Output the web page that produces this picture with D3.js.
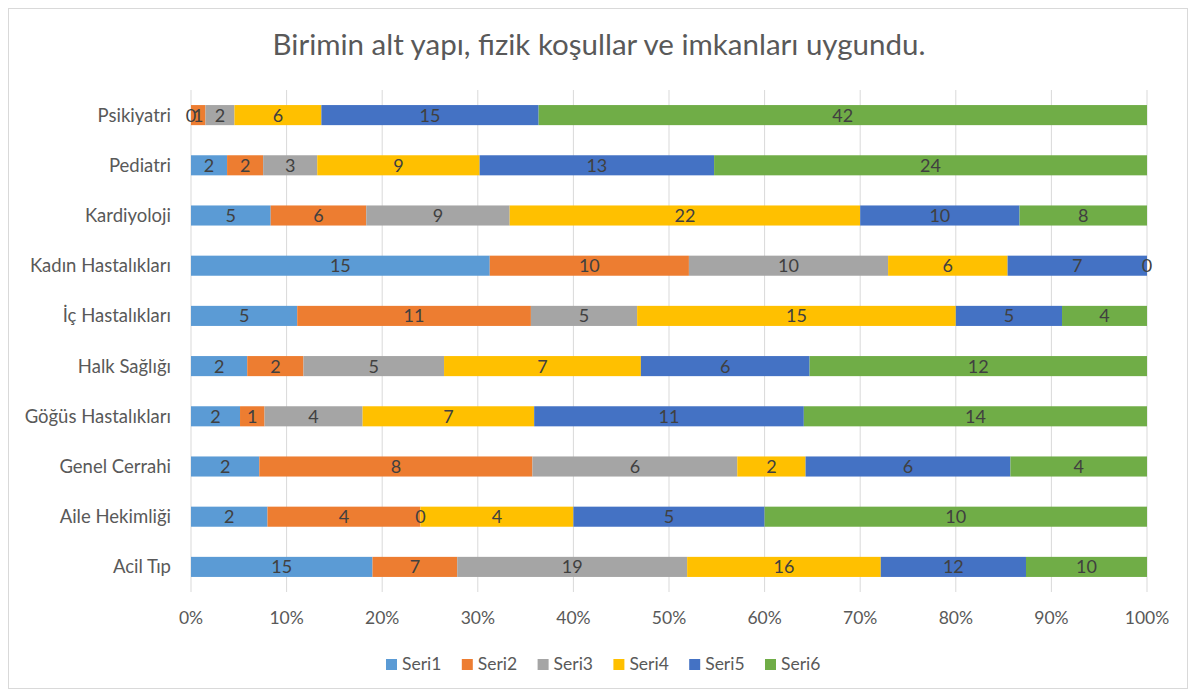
<!DOCTYPE html>
<html><head><meta charset="utf-8">
<script src="https://cdn.jsdelivr.net/npm/d3@7"></script>
<style>body{margin:0;background:#fff;}svg{display:block;font-family:Lato,"Open Sans",sans-serif;}</style>
</head><body><svg id="c" width="1196" height="696"></svg>
<script>
const title = "Birimin alt yapı, fizik koşullar ve imkanları uygundu.";
const categories = ["Acil Tıp","Aile Hekimliği","Genel Cerrahi","Göğüs Hastalıkları","Halk Sağlığı","İç Hastalıkları","Kadın Hastalıkları","Kardiyoloji","Pediatri","Psikiyatri"];
const seriesNames = ["Seri1","Seri2","Seri3","Seri4","Seri5","Seri6"];
const seri1 = [15,2,2,2,2,5,15,5,2,0];
const seri2 = [7,4,8,1,2,11,10,6,2,1];
const seri3 = [19,0,6,4,5,5,10,9,3,2];
const seri4 = [16,4,2,7,7,15,6,22,9,6];
const seri5 = [12,5,6,11,6,5,7,10,13,15];
const seri6 = [10,10,4,14,12,4,0,8,24,42];
const colors = ["#5B9BD5","#ED7D31","#A5A5A5","#FFC000","#4472C4","#70AD47"];
const ticks = [0,0.1,0.2,0.3,0.4,0.5,0.6,0.7,0.8,0.9,1];

const seriesData = [seri1,seri2,seri3,seri4,seri5,seri6];
const svg = d3.select("#c");
svg.append("rect").attr("x",8.5).attr("y",8.5).attr("width",1179).attr("height",680)
  .attr("fill","#fff").attr("stroke","#D9D9D9");

svg.append("text").attr("x",599).attr("y",55).attr("text-anchor","middle")
  .attr("fill","#595959").style("font-size","29.5px").text(title);

const x = d3.scaleLinear().domain([0,1]).range([191,1147]);
const y = d3.scaleBand().domain(categories.slice().reverse()).range([90,592]).paddingInner(0.6).paddingOuter(0.3);

const g = svg.append("g");
g.selectAll("line.grid").data(ticks).join("line").attr("class","grid")
  .attr("x1",d=>x(d)).attr("x2",d=>x(d)).attr("y1",90).attr("y2",592)
  .attr("stroke","#D9D9D9").attr("stroke-width",1);

const rows = categories.map((c,i)=>{
  const vals = seriesData.map(s=>s[i]);
  const tot = d3.sum(vals);
  let acc=0;
  return vals.map((v,k)=>{const s={cat:c,k,v,x0:acc/tot,x1:(acc+v)/tot};acc+=v;return s;});
});
const segs = rows.flat();
g.selectAll("rect.seg").data(segs).join("rect").attr("class","seg")
  .attr("x",d=>x(d.x0)).attr("width",d=>x(d.x1)-x(d.x0))
  .attr("y",d=>y(d.cat)).attr("height",y.bandwidth())
  .attr("fill",d=>colors[d.k]);
g.selectAll("text.lbl").data(segs).join("text").attr("class","lbl")
  .attr("x",d=>(x(d.x0)+x(d.x1))/2).attr("y",d=>y(d.cat)+y.bandwidth()/2+6.5)
  .attr("text-anchor","middle").attr("fill","#404040").style("font-size","18px").text(d=>d.v);

g.selectAll("text.cat").data(categories).join("text").attr("class","cat")
  .attr("x",171).attr("y",d=>y(d)+y.bandwidth()/2+6.5).attr("text-anchor","end")
  .attr("fill","#595959").style("font-size","18.5px").text(d=>d);

g.selectAll("text.tick").data(ticks).join("text").attr("class","tick")
  .attr("x",d=>x(d)).attr("y",624).attr("text-anchor","middle")
  .attr("fill","#595959").style("font-size","17.5px").text(d=>d3.format(".0%")(d));

const lg = svg.append("g");
seriesNames.forEach((n,i)=>{
  const lx = 386 + i*75.8;
  lg.append("rect").attr("x",lx).attr("y",659).attr("width",11).attr("height",11).attr("fill",colors[i]);
  lg.append("text").attr("x",lx+16).attr("y",670).attr("fill","#595959").style("font-size","17.5px").text(n);
});
</script></body></html>
